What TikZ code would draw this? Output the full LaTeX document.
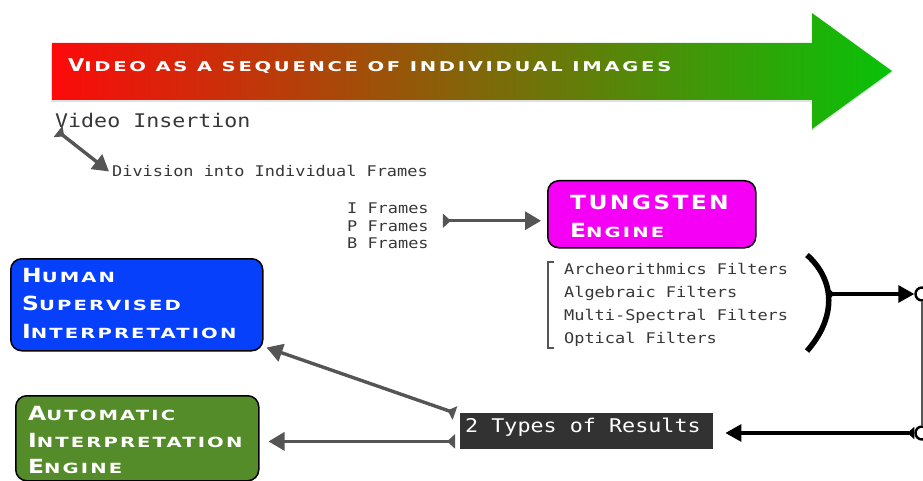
\documentclass[tikz,border=0pt]{standalone}
\usepackage{fontspec}
\usetikzlibrary{arrows.meta,calc}
\newfontfamily\monofont[FakeStretch=1.15]{DejaVu Sans Mono}
\newfontfamily\capsbigfont[FakeStretch=1.2,LetterSpace=12]{DejaVu Sans}
\newfontfamily\capssmallfont[FakeStretch=1.4,LetterSpace=15]{DejaVu Sans}
\newfontfamily\titlesmallfont[FakeStretch=1.45,LetterSpace=20]{DejaVu Sans}
\definecolor{arrowred}{RGB}{252,10,10}
\definecolor{arrowgreen}{RGB}{8,194,8}
\definecolor{tungmag}{RGB}{245,0,245}
\definecolor{humanblue}{RGB}{6,64,250}
\definecolor{autogreen}{RGB}{84,140,42}
\definecolor{resultgray}{RGB}{50,50,50}
\definecolor{linkgray}{RGB}{85,85,85}
\definecolor{monogray}{RGB}{55,55,55}
% fake small capitals: one tall letter followed by smaller, wider capitals
\newcommand\capbig[1]{{\capsbigfont\bfseries\fontsize{19.5}{20}\selectfont #1}}
\newcommand\capsmall[1]{{\capssmallfont\bfseries\fontsize{14}{14}\selectfont #1}}
\newcommand\capword[2]{\capbig{#1}\capsmall{#2}}
\newcommand\titlebig[1]{{\capsbigfont\bfseries\fontsize{17.5}{18}\selectfont #1}}
\newcommand\titlesmall[1]{{\titlesmallfont\bfseries\fontsize{13.5}{14}\selectfont #1}}
\begin{document}
\begin{tikzpicture}[x=1pt,y=-1pt,
  monotext/.style={font=\monofont\fontsize{14.7}{15}\selectfont, text=monogray, inner sep=0, anchor=base west},
  capstext/.style={text=white, inner sep=0, anchor=base west},
  roundbox/.style={draw=black, line width=1.5pt, rounded corners=11pt, inner sep=0, anchor=north west},
  graylink/.style={draw=linkgray, line width=3.4pt,
    {Triangle[reversed,length=8pt,width=14pt]}-{Triangle[length=16pt,width=18pt]}},
  blacklink/.style={draw=black, line width=3.2pt,
    {Triangle[reversed,length=7pt,width=12pt]}-{Triangle[length=16pt,width=17pt]}},
  endring/.style={circle, draw=black, line width=2.4pt, minimum size=13pt, inner sep=0}]
\useasboundingbox (0,0) rectangle (923,481);

% timeline arrow with red-to-green shading and a faint shadow
\fill[black, opacity=0.12]
  (51,44) -- (812,44) -- (812,14) -- (893,72) -- (812,131) -- (812,102) -- (51,102) -- cycle;
\shade[left color=arrowred, right color=arrowgreen]
  (52,43) -- (812,43) -- (812,13) -- (892,71) -- (812,129) -- (812,100) -- (52,100) -- cycle;
\node[capstext] (title) at (68,72)
  {\titlebig{V}\titlesmall{IDEO AS A SEQUENCE OF INDIVIDUAL IMAGES}};

% processing steps
\node[monotext, font=\monofont\fontsize{18.8}{19}\selectfont] (vi) at (55,128) {Video Insertion};
\node[monotext] (div) at (112,177) {Division into Individual Frames};
\node[monotext] (fI) at (347,214) {I Frames};
\node[monotext] (fP) at (347,231) {P Frames};
\node[monotext] (fB) at (347,248) {B Frames};

\draw[graylink] ([shift={(3,3)}]vi.south west) -- ([xshift=-3pt]div.west);

% engine
\node[roundbox, fill=tungmag, minimum width=208pt, minimum height=67pt] (tung) at (547,180) {};
\node[capstext] (tunglbl) at (570,209) {\capbig{TUNGSTEN}};
\node[capstext] (englbl) at (570,237) {\capword{E}{NGINE}};

\draw[graylink] ([shift={(14,-5)}]fP.east) coordinate (fs) -- ($(fs -| tung.west)+(-6,0)$);

% filter list
\draw[linkgray, line width=1.5pt] (554,262) -- (548,262) -- (548,348) -- (554,348);
\node[monotext] (f1) at (564,274) {Archeorithmics Filters};
\node[monotext] (f2) at (564,297) {Algebraic Filters};
\node[monotext] (f3) at (564,320) {Multi-Spectral Filters};
\node[monotext] (f4) at (564,343) {Optical Filters};
\draw[line width=5.5pt] (807,255) .. controls (836,281) and (836,318) .. (807,351);
\coordinate (paren) at (828,294);

% feedback loop on the right edge
\node[endring] (c1) at (922,294) {};
\node[endring] (c2) at (922,433) {};
\draw[blacklink] (paren) -- (c1.west);
\draw[linkgray, line width=1.2pt] (c1.south) -- (c2.north);

% results
\node[anchor=north west, fill=resultgray, minimum width=253pt, minimum height=36pt, inner sep=0] (res) at (460,413) {};
\node[monotext, font=\monofont\fontsize{18.9}{19}\selectfont, text=white] (reslbl) at (465,432) {2 Types of Results};
\draw[blacklink] (c2.west) -- ($(c2.west -| res.east)+(12,0)$);

% interpretation targets
\node[roundbox, fill=humanblue, minimum width=252pt, minimum height=92pt] (human) at (10,258) {};
\node[capstext] (h1) at (22,282) {\capword{H}{UMAN}};
\node[capstext] (h2) at (22,310) {\capword{S}{UPERVISED}};
\node[capstext] (h3) at (22,338) {\capword{I}{NTERPRETATION}};

\node[roundbox, fill=autogreen, minimum width=243pt, minimum height=85pt] (auto) at (15,395) {};
\node[capstext] (a1) at (28,420) {\capword{A}{UTOMATIC}};
\node[capstext] (a2) at (28,447) {\capword{I}{NTERPRETATION}};
\node[capstext] (a3) at (28,473) {\capword{E}{NGINE}};

\draw[graylink] ([xshift=-5pt]res.north west) -- ([shift={(3,-4)}]human.south east);
\draw[graylink] ([shift={(-5,-8)}]res.south west) coordinate (rs) -- ($(rs -| auto.east)+(9,0)$);
\end{tikzpicture}
\end{document}
